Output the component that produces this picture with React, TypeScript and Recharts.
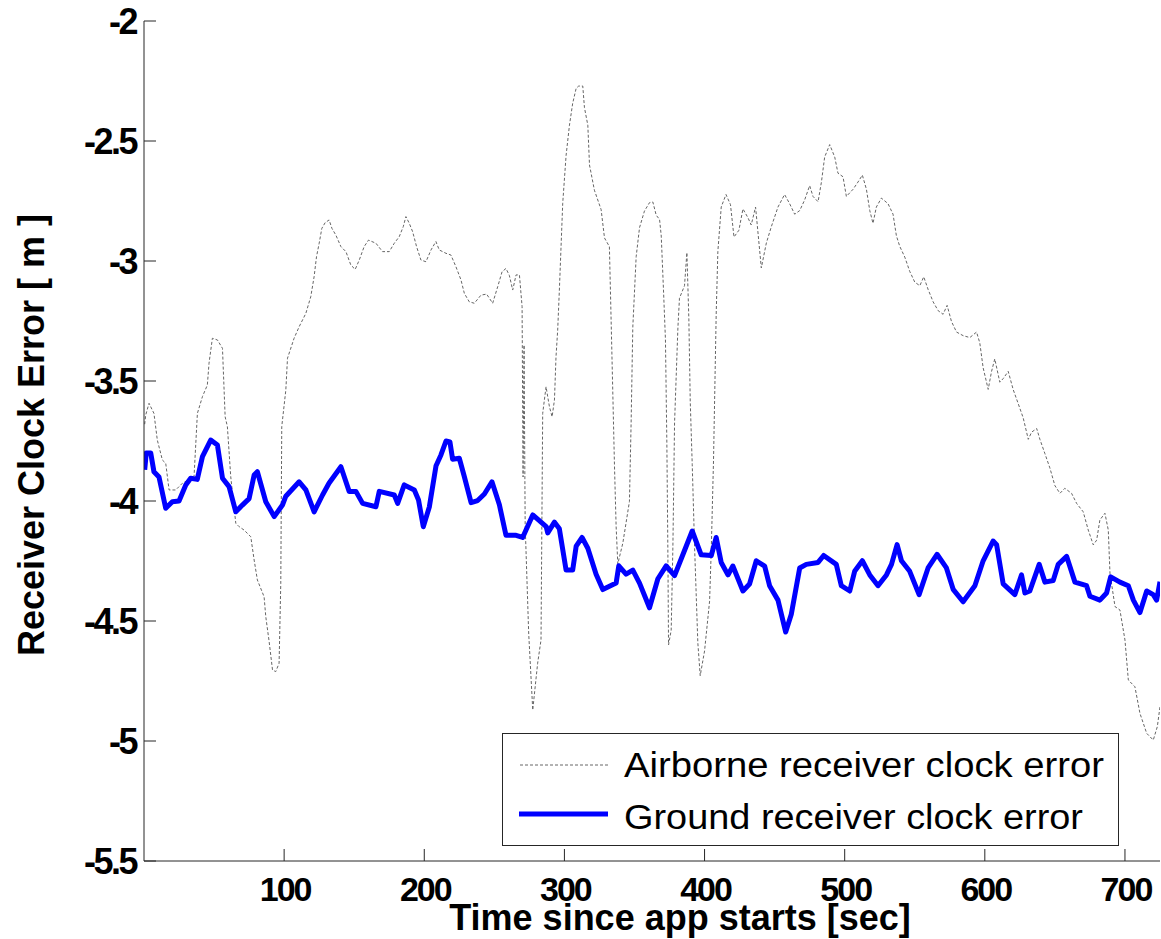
import React from 'react';
import { LineChart, Line, XAxis, YAxis, Legend, Label } from 'recharts';

const FONT = '"Liberation Sans", Arial, Helvetica, sans-serif';

const xTicks = [100, 200, 300, 400, 500, 600, 700];
const yTicks = [-5.5, -5, -4.5, -4, -3.5, -3, -2.5, -2];
const xDomain = [0, 725];
const yDomain = [-5.5, -2];

const seriesNames = ['Airborne receiver clock error', 'Ground receiver clock error'];
const xLabel = 'Time since app starts [sec]';
const yLabel = 'Receiver Clock Error [ m ]';

const groundTime = [
  0.5, 1.6, 4.8, 7.1, 10.7, 15.5, 20.2, 25, 29.8, 33.3, 38, 41.7, 47.6, 52.4, 56, 60.7, 65.5, 70.2, 75, 78.6,
  80.9, 86.9, 92.9, 98.8, 101.2, 110.7, 115.5, 121.4, 127.4, 132, 140.5, 146.4, 151.2, 156, 165.5, 167.9, 178.6, 181, 185.7, 192.9,
  195.9, 199.3, 203.6, 208.4, 211.9, 215.5, 218.3, 220.2, 225, 228.6, 233.4, 238.1, 242.9, 248.3, 253.6, 258.3, 265.5, 270.2, 277.4, 287,
  288.1, 292.9, 296.4, 301.2, 305.9, 308.4, 312.6, 316.7, 322.6, 327.4, 336.9, 338.8, 344, 348.8, 353.6, 360.7, 366.7, 372.6, 378.6, 384.5,
  391.2, 397.6, 404.8, 408.3, 411.9, 416.7, 420.2, 427.4, 432.1, 436.9, 442.9, 446.4, 452.4, 457.9, 461.9, 467.9, 472.6, 481, 485, 494,
  497.6, 503.6, 507.1, 512.6, 517.9, 523.8, 529.8, 533.4, 537.4, 540.5, 546.4, 553.1, 559.5, 565.9, 572.6, 577.4, 584.5, 592.9, 598.8, 605.9,
  608.4, 613.1, 621.4, 626.2, 628.6, 632.1, 638.8, 642.9, 648.8, 652.4, 658.4, 664.3, 672.6, 675, 682.1, 686.9, 689.8, 696.4, 702.4, 706,
  710.7, 715.5, 720.2, 722.6, 725,
];
const groundValue = [
  -3.87, -3.8, -3.8, -3.878, -3.9, -4.03, -4.003, -4.0, -3.933, -3.905, -3.91, -3.815, -3.746, -3.767, -3.905, -3.94, -4.045, -4.017, -3.99, -3.892,
  -3.878, -4.003, -4.065, -4.017, -3.98, -3.92, -3.954, -4.045, -3.975, -3.926, -3.857, -3.96, -3.96, -4.01, -4.024, -3.96, -3.975, -4.01, -3.933, -3.954,
  -3.996, -4.107, -4.025, -3.853, -3.808, -3.75, -3.754, -3.826, -3.822, -3.899, -4.007, -3.998, -3.971, -3.92, -4.016, -4.143, -4.143, -4.152, -4.058, -4.107,
  -4.133, -4.088, -4.116, -4.288, -4.288, -4.188, -4.152, -4.197, -4.305, -4.369, -4.342, -4.27, -4.305, -4.288, -4.342, -4.445, -4.324, -4.27, -4.311, -4.224,
  -4.125, -4.224, -4.227, -4.152, -4.256, -4.308, -4.271, -4.375, -4.346, -4.249, -4.271, -4.353, -4.413, -4.546, -4.472, -4.279, -4.264, -4.256, -4.227, -4.264,
  -4.353, -4.375, -4.293, -4.249, -4.308, -4.353, -4.308, -4.264, -4.182, -4.249, -4.293, -4.39, -4.279, -4.222, -4.279, -4.368, -4.42, -4.353, -4.249, -4.167,
  -4.182, -4.345, -4.39, -4.308, -4.383, -4.375, -4.264, -4.338, -4.331, -4.264, -4.231, -4.338, -4.353, -4.397, -4.413, -4.383, -4.316, -4.338, -4.353, -4.413,
  -4.465, -4.375, -4.39, -4.413, -4.336,
];

const airborneTime = [
  0.5, 1.2, 3.6, 7.1, 9.5, 13.1, 15.5, 17.9, 22.6, 27.4, 35.7, 38.1, 41.7, 45.2, 46.4, 48.8, 52.4, 56, 57.9, 59.5,
  61.9, 65.5, 67.9, 71.4, 76.2, 78.6, 80.9, 85.7, 86.9, 89.3, 91.7, 94, 96.4, 97.6, 98.3, 101.2, 102.4, 107.1, 110.7, 115.5,
  119, 121.4, 123.1, 125, 126.9, 129.3, 132.1, 134.1, 136.9, 140.5, 144.1, 147.6, 150.7, 153.6, 157.1, 160.2, 165.5, 170.2, 175, 178.6,
  182.1, 185, 186.9, 189.3, 191.7, 194.5, 197.6, 201.2, 204.8, 208.3, 210.7, 215.5, 219, 222.6, 226.2, 228.6, 232.1, 235.7, 240.5, 244.5,
  248.8, 252.4, 255.5, 258.3, 260.7, 263.1, 265.5, 267.9, 269.8, 270.5, 271.2, 272, 274.5, 277.4, 280.9, 283.3, 284.5, 286.9, 289.3, 291.2,
  292.9, 294, 295.2, 296.4, 298.8, 301.2, 303.6, 305.9, 308.4, 310.2, 313.1, 314.3, 316.7, 317.9, 321.4, 326.2, 328.6, 332.1, 334, 335.7,
  336.9, 338.1, 341.7, 346.4, 347.6, 348.8, 351.2, 353.6, 357.1, 360.7, 363.1, 365.5, 367.9, 369.1, 370.7, 372.1, 373.1, 373.8, 374.3, 376.2,
  377.4, 378.6, 381, 382.1, 385.7, 387.4, 388.8, 389.8, 391.2, 392.9, 395.2, 396.9, 400, 403.6, 404.8, 406.4, 408.3, 409.5, 411.9, 415.3,
  418.5, 421, 424.5, 427.4, 431, 433.3, 436.4, 440.5, 444.1, 447.6, 452.4, 457.1, 460.7, 464.3, 467.9, 471.4, 475, 477.4, 481, 483.4,
  485.7, 489.3, 492.9, 495.2, 498.8, 501.2, 506, 509.5, 512.6, 515.5, 517.9, 520.2, 522.6, 526.2, 530.9, 534.5, 536.9, 539.3, 542.9, 546.4,
  550, 553.6, 556.4, 559.5, 563.1, 566.7, 570.2, 573.1, 576.2, 579.8, 584.5, 589.3, 594.1, 596.4, 598.8, 602.4, 604.8, 607.1, 610.7, 613.1,
  616.7, 620.2, 623.8, 627.4, 631, 633.4, 637, 639.3, 642.9, 646.4, 650, 653.6, 657.1, 661.9, 665.5, 670.2, 673.8, 677.4, 679.8, 682.1,
  685.7, 688.1, 689.3, 692.9, 696.4, 700, 702.4, 707.1, 710.7, 715.5, 720.2, 723.1, 725,
];
const airborneValue = [
  -3.68, -3.642, -3.593, -3.635, -3.746, -3.829, -3.843, -3.954, -3.954, -3.926, -3.899, -3.635, -3.565, -3.517, -3.426, -3.322, -3.329, -3.364, -3.649, -3.69,
  -3.899, -4.093, -4.107, -4.121, -4.149, -4.246, -4.329, -4.399, -4.482, -4.586, -4.704, -4.711, -4.676, -4.343, -3.69, -3.538, -3.405, -3.322, -3.274, -3.218,
  -3.149, -3.065, -2.982, -2.926, -2.864, -2.84, -2.829, -2.864, -2.892, -2.94, -2.961, -3.017, -3.035, -2.996, -2.94, -2.913, -2.926, -2.961, -2.961, -2.926,
  -2.899, -2.857, -2.815, -2.843, -2.878, -2.94, -2.996, -3.003, -2.954, -2.919, -2.954, -2.968, -2.975, -3.024, -3.079, -3.135, -3.17, -3.176, -3.142, -3.138,
  -3.176, -3.107, -3.045, -3.031, -3.06, -3.121, -3.058, -3.058, -3.19, -3.9, -3.35, -4.1, -4.55, -4.871, -4.676, -4.579, -3.635, -3.524, -3.607, -3.649,
  -3.579, -3.399, -3.288, -3.121, -2.759, -2.56, -2.434, -2.343, -2.28, -2.271, -2.271, -2.361, -2.434, -2.6, -2.705, -2.786, -2.904, -2.94, -3.415, -3.847,
  -4.106, -4.262, -4.175, -4.002, -3.674, -3.276, -2.982, -2.861, -2.792, -2.757, -2.754, -2.809, -2.827, -2.896, -3.121, -3.328, -3.76, -4.193, -4.6, -4.538,
  -4.193, -3.674, -3.276, -3.155, -3.103, -2.965, -3.242, -3.588, -3.847, -4.193, -4.59, -4.728, -4.625, -4.417, -4.2, -3.83, -3.222, -2.96, -2.775, -2.723,
  -2.765, -2.9, -2.872, -2.783, -2.82, -2.85, -2.775, -3.029, -2.925, -2.858, -2.775, -2.723, -2.761, -2.805, -2.79, -2.746, -2.686, -2.731, -2.753, -2.671,
  -2.567, -2.515, -2.567, -2.634, -2.649, -2.731, -2.701, -2.671, -2.642, -2.701, -2.79, -2.843, -2.775, -2.738, -2.761, -2.805, -2.895, -2.939, -2.984, -3.043,
  -3.088, -3.103, -3.066, -3.118, -3.17, -3.207, -3.222, -3.185, -3.252, -3.296, -3.311, -3.319, -3.296, -3.341, -3.445, -3.535, -3.46, -3.408, -3.505, -3.49,
  -3.46, -3.535, -3.594, -3.654, -3.743, -3.713, -3.698, -3.743, -3.803, -3.862, -3.936, -3.968, -3.947, -3.968, -4.01, -4.045, -4.121, -4.183, -4.163, -4.079,
  -4.051, -4.121, -4.301, -4.44, -4.454, -4.579, -4.746, -4.774, -4.885, -4.968, -4.996, -4.94, -4.857,
];

const airborneData = airborneTime.map((t, i) => ({ t, v: airborneValue[i] }));
const groundData = groundTime.map((t, i) => ({ t, v: groundValue[i] }));

const AXIS_COLOR = '#262626';
const GRAY = '#666666';
const BLUE = '#0000ff';

const YTick = (props: any) => {
  const { y, payload } = props;
  return (
    <text x={136} y={y + 13} textAnchor="end" fontFamily={FONT} fontWeight="bold" fontSize={36}
      letterSpacing={-2.5} fill="#000">
      {String(payload.value)}
    </text>
  );
};

const XTick = (props: any) => {
  const { x, payload } = props;
  return (
    <text x={x + 1} y={901} textAnchor="middle" fontFamily={FONT} fontWeight="bold" fontSize={34}
      letterSpacing={-2} fill="#000">
      {String(payload.value)}
    </text>
  );
};

const NoTick = () => <g />;

const renderXLabel = () => (
  <text x={680} y={930} textAnchor="middle" fontFamily={FONT} fontWeight="bold" fontSize={36} fill="#000">
    {xLabel}
  </text>
);

const renderYLabel = () => (
  <text x={44} y={435} textAnchor="middle" fontFamily={FONT} fontWeight="bold" fontSize={36} fill="#000"
    transform="rotate(-90, 44, 435)">
    {yLabel}
  </text>
);

const LegendBox = () => (
  <svg width={618} height={114} style={{ display: 'block' }}>
    <rect x={0.5} y={0.5} width={616} height={112} fill="#fff" stroke={AXIS_COLOR} strokeWidth={1} />
    <line x1={18} y1={32} x2={108} y2={32} stroke={GRAY} strokeWidth={1} strokeDasharray="3 2" />
    <text x={122} y={44} fontFamily={FONT} fontSize={35} fill="#000" textLength={480}
      lengthAdjust="spacingAndGlyphs">
      {seriesNames[0]}
    </text>
    <line x1={17} y1={81} x2={106} y2={81} stroke={BLUE} strokeWidth={5} />
    <text x={122} y={96} fontFamily={FONT} fontSize={35} fill="#000" textLength={459}
      lengthAdjust="spacingAndGlyphs">
      {seriesNames[1]}
    </text>
  </svg>
);

export default function App() {
  return (
    <div style={{ position: 'absolute', left: 0, top: 0, width: 1161, height: 939, background: '#fff' }}>
      <LineChart width={1161} height={939} margin={{ top: 21, right: 1, bottom: 0, left: 0 }}>
        <XAxis
          xAxisId="bottom"
          type="number"
          dataKey="t"
          domain={xDomain}
          ticks={xTicks}
          allowDataOverflow
          orientation="bottom"
          height={78}
          tickSize={-12}
          tickMargin={0}
          tick={XTick}
          stroke={AXIS_COLOR}
          axisLine={{ stroke: AXIS_COLOR, strokeWidth: 1 }}
          tickLine={{ stroke: AXIS_COLOR, strokeWidth: 1 }}
        >
          <Label content={renderXLabel} />
        </XAxis>
        <XAxis
          xAxisId="top"
          type="number"
          dataKey="t"
          domain={xDomain}
          ticks={xTicks}
          allowDataOverflow
          orientation="top"
          height={0}
          tickSize={-12}
          tick={NoTick}
          stroke={AXIS_COLOR}
          axisLine={{ stroke: AXIS_COLOR, strokeWidth: 1 }}
          tickLine={{ stroke: AXIS_COLOR, strokeWidth: 1 }}
        />
        <YAxis
          yAxisId="left"
          type="number"
          domain={yDomain}
          ticks={yTicks}
          allowDataOverflow
          orientation="left"
          width={144}
          tickSize={-12}
          tickMargin={0}
          tick={YTick}
          stroke={AXIS_COLOR}
          axisLine={{ stroke: AXIS_COLOR, strokeWidth: 1 }}
          tickLine={{ stroke: AXIS_COLOR, strokeWidth: 1 }}
        >
          <Label content={renderYLabel} />
        </YAxis>
        <YAxis
          yAxisId="right"
          type="number"
          domain={yDomain}
          ticks={yTicks}
          allowDataOverflow
          orientation="right"
          width={0}
          tickSize={-12}
          tick={NoTick}
          stroke={AXIS_COLOR}
          axisLine={{ stroke: AXIS_COLOR, strokeWidth: 1 }}
          tickLine={{ stroke: AXIS_COLOR, strokeWidth: 1 }}
        />
        <Line
          xAxisId="bottom"
          yAxisId="left"
          data={airborneData}
          dataKey="v"
          name={seriesNames[0]}
          type="linear"
          stroke={GRAY}
          strokeWidth={1}
          strokeDasharray="3 2"
          dot={false}
          activeDot={false}
          isAnimationActive={false}
        />
        <Line
          xAxisId="bottom"
          yAxisId="left"
          data={groundData}
          dataKey="v"
          name={seriesNames[1]}
          type="linear"
          stroke={BLUE}
          strokeWidth={5}
          strokeLinejoin="round"
          dot={false}
          activeDot={false}
          isAnimationActive={false}
        />
        <Legend
          layout="vertical"
          align="center"
          verticalAlign="middle"
          content={LegendBox}
          wrapperStyle={{ position: 'absolute', left: 502, top: 733, width: 618, height: 114, margin: 0, padding: 0 }}
        />
      </LineChart>
    </div>
  );
}
